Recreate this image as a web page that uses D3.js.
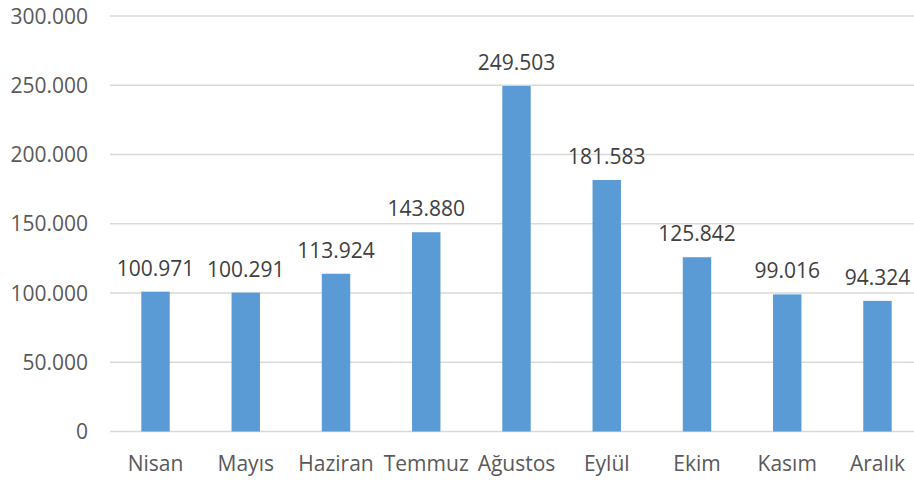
<!DOCTYPE html>
<html><head><meta charset="utf-8">
<script src="https://cdn.jsdelivr.net/npm/d3@7"></script>
<style>body{margin:0;background:#fff}svg{display:block}</style>
</head><body>
<svg id="c" width="914" height="484"></svg>
<script>
const categories = ["Nisan","Mayıs","Haziran","Temmuz","Ağustos","Eylül","Ekim","Kasım","Aralık"];
const values = [100971,100291,113924,143880,249503,181583,125842,99016,94324];
const yTicks = [0,50000,100000,150000,200000,250000,300000];

const svg = d3.select("#c");
const font = "'Open Sans', sans-serif";
const fs = 21;
const x = d3.scaleBand().domain(categories).range([110.4, 922.6]).paddingInner(0.685).paddingOuter(0.3425);
const y = d3.scaleLinear().domain([0,300000]).range([431.5,16]);
const fmt = v => v===0 ? "0" : d3.format(",.0f")(v).replace(/,/g,".");

svg.append("g").selectAll("line").data(yTicks).join("line")
  .attr("x1",110).attr("x2",914).attr("y1",d=>y(d)).attr("y2",d=>y(d))
  .attr("stroke","#d9d9d9").attr("stroke-width",1.5);

svg.append("g").selectAll("text").data(yTicks).join("text")
  .attr("x",88).attr("y",d=>y(d)).attr("dy","0.36em").attr("text-anchor","end")
  .attr("font-family",font).attr("font-size",fs).attr("fill","#595959").text(fmt);

svg.append("g").selectAll("rect").data(values).join("rect")
  .attr("x",(d,i)=>x(categories[i])).attr("width",x.bandwidth())
  .attr("y",d=>y(d)).attr("height",d=>y(0)-y(d)).attr("fill","#5b9bd5");

svg.append("g").selectAll("text").data(values).join("text")
  .attr("x",(d,i)=>x(categories[i])+x.bandwidth()/2).attr("y",d=>y(d)-16)
  .attr("text-anchor","middle").attr("font-family",font).attr("font-size",fs)
  .attr("fill","#404040").text(fmt);

svg.append("g").selectAll("text").data(categories).join("text")
  .attr("x",d=>x(d)+x.bandwidth()/2).attr("y",471)
  .attr("text-anchor","middle").attr("font-family",font).attr("font-size",fs)
  .attr("fill","#595959").text(d=>d);
</script>
</body></html>
